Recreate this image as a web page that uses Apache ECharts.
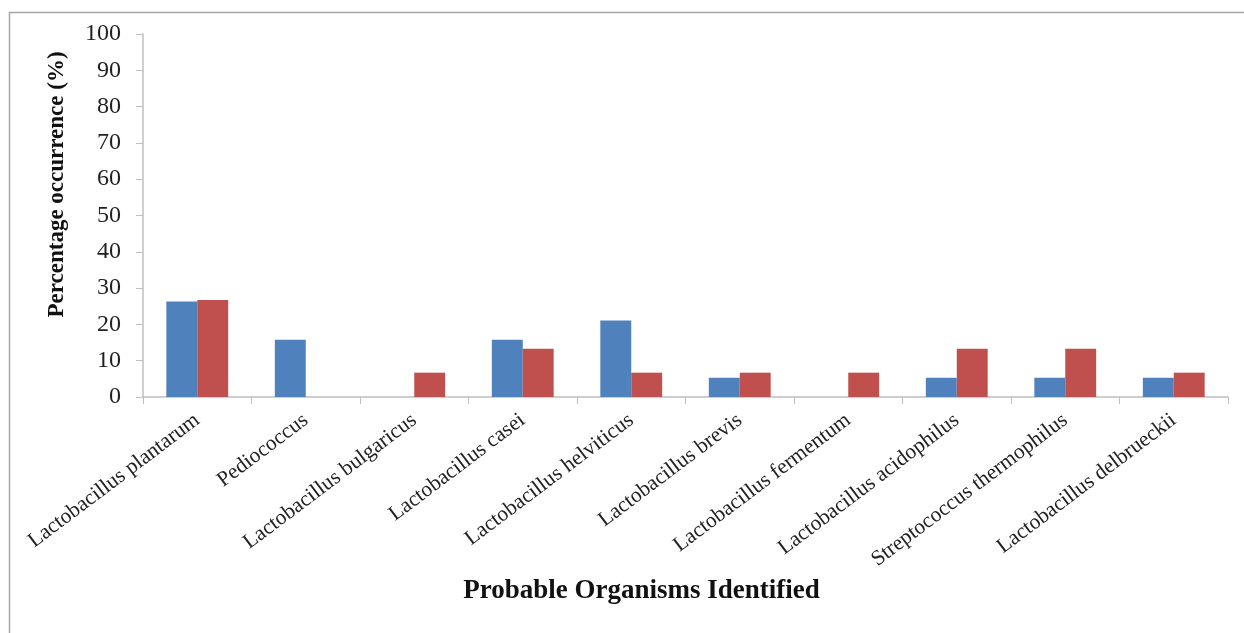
<!DOCTYPE html>
<html><head><meta charset="utf-8">
<script src="https://cdn.jsdelivr.net/npm/echarts@6/dist/echarts.min.js"></script>
<style>html,body{margin:0;padding:0;background:#fff}#c{width:1244px;height:633px}</style>
</head><body><div id="c"></div>
<script>
const categories = ['Lactobacillus plantarum','Pediococcus','Lactobacillus bulgaricus','Lactobacillus casei','Lactobacillus helviticus','Lactobacillus brevis','Lactobacillus fermentum','Lactobacillus acidophilus','Streptococcus thermophilus','Lactobacillus delbrueckii'];
const seriesA = [26.3, 15.8, 0, 15.8, 21.1, 5.3, 0, 5.3, 5.3, 5.3];
const seriesB = [26.7, 0, 6.7, 13.3, 6.7, 6.7, 6.7, 13.3, 13.3, 6.7];
const yTicks = [0,10,20,30,40,50,60,70,80,90,100];

const chart = echarts.init(document.getElementById('c'));
const serif = 'Liberation Serif';
chart.setOption({
  animation:false,
  graphic:[{type:'rect',shape:{x:9.5,y:12.5,width:1250,height:640},style:{fill:'none',stroke:'#a6a6a6',lineWidth:1.5},silent:true}],
  grid:{left:143,right:16,top:34,bottom:236},
  xAxis:{type:'category',data:categories,
    axisLine:{lineStyle:{color:'#bfbfbf',width:1.5}},
    axisTick:{show:true,length:7,lineStyle:{color:'#bfbfbf'}},
    axisLabel:{rotate:37,interval:0,margin:21,fontFamily:serif,fontSize:21.5,color:'#222'},
    name:'Probable Organisms Identified',nameLocation:'middle',nameGap:181,
    nameTextStyle:{fontFamily:serif,fontWeight:'bold',fontSize:27,color:'#111',padding:[0,88,0,0]}},
  yAxis:{type:'value',min:0,max:100,interval:10,
    axisLine:{show:true,lineStyle:{color:'#bfbfbf',width:1.5}},
    axisTick:{show:true,length:7,lineStyle:{color:'#bfbfbf'}},
    splitLine:{show:false},
    axisLabel:{margin:22,fontFamily:serif,fontSize:24,color:'#222',
      formatter:v=>yTicks.includes(v)?String(v):''},
    name:'Percentage occurrence (%)',nameLocation:'middle',nameGap:74,
    nameTextStyle:{fontFamily:serif,fontWeight:'bold',fontSize:23,color:'#111',padding:[0,0,0,62]}},
  series:[
    {type:'bar',data:seriesA,barGap:'0%',barCategoryGap:'43%',itemStyle:{color:'#4F81BD'}},
    {type:'bar',data:seriesB,barGap:'0%',barCategoryGap:'43%',itemStyle:{color:'#C0504D'}}
  ]
});
</script></body></html>
